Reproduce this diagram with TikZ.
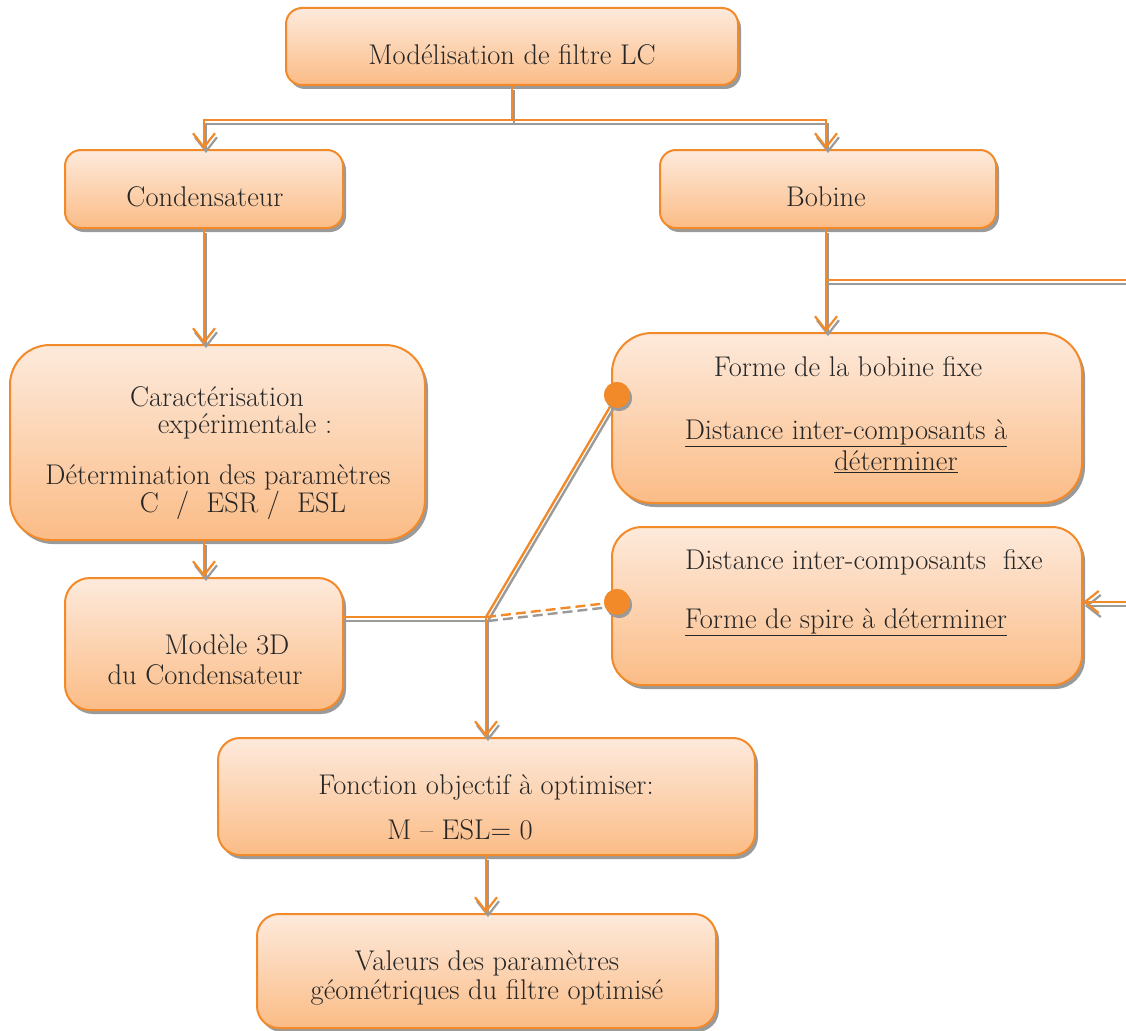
\documentclass[tikz,border=0pt]{standalone}
\usetikzlibrary{arrows.meta,shadows}
\definecolor{boxtop}{HTML}{FDEADC}
\definecolor{boxbot}{HTML}{FBBC86}
\definecolor{orl}{HTML}{F28A2A}
\definecolor{shd}{HTML}{9A9A9A}
\tikzset{
  box/.style={rectangle, draw=orl, line width=2pt, top color=boxtop, bottom color=boxbot,
    drop shadow={shadow xshift=3pt, shadow yshift=-4pt, fill=shd, opacity=1},
    inner sep=0pt, rounded corners=16pt},
  bigbox/.style={box, rounded corners=40pt},
  txt/.style={inner sep=0pt, font=\fontsize{28.5}{32}\selectfont, text=black!85},
  conn/.style={draw=orl, line width=2.4pt,
    preaction={draw=shd, line width=2.4pt, transform canvas={xshift=2pt,yshift=-4pt}}},
  dconn/.style={draw=orl, line width=2.4pt, dash pattern=on 10pt off 5pt,
    preaction={draw=shd, line width=2.4pt, dash pattern=on 10pt off 5pt, transform canvas={xshift=2pt,yshift=-4pt}}},
  arr/.style={conn, -{Straight Barb[length=14pt,width=22pt,line width=2.2pt]}},
  dot/.style={circle, fill=orl, inner sep=0pt, minimum size=26pt,
    drop shadow={shadow xshift=2pt, shadow yshift=-3pt, fill=shd, opacity=1}},
}
\begin{document}
\begin{tikzpicture}[x=1pt,y=-1pt]
\useasboundingbox (0,0) rectangle (1126,1030);
% boxes
\node[box, minimum width=452pt, minimum height=77pt] (top) at (512,46.5) {};
\node[box, minimum width=278pt, minimum height=78pt] (cond) at (204,189) {};
\node[box, minimum width=336pt, minimum height=78pt] (bob) at (828,189) {};
\node[bigbox, minimum width=415pt, minimum height=195pt] (car) at (217.5,442.5) {};
\node[box, rounded corners=25pt, minimum width=278pt, minimum height=132pt] (mod) at (204,644) {};
\node[bigbox, minimum width=470pt, minimum height=170pt] (forme) at (847,418) {};
\node[bigbox, rounded corners=30pt, minimum width=470pt, minimum height=158pt] (dist) at (847,606) {};
\node[box, rounded corners=22pt, minimum width=537pt, minimum height=117pt] (fonc) at (486.5,796.5) {};
\node[box, rounded corners=22pt, minimum width=459pt, minimum height=114pt] (val) at (486.5,971) {};
% texts
\node[txt] (t1) at (512,55) {Modélisation de filtre LC};
\node[txt] (t2) at (205,197) {Condensateur};
\node[txt] (t3) at (826,197) {Bobine};
\node[txt] (t4) at (217,397) {Caractérisation};
\node[txt] (t5) at (245,426) {expérimentale :};
\node[txt] (t6) at (218,477) {Détermination des paramètres};
\node[txt] (t7) at (243,505) {C~~/~~ESR~/~~ESL};
\node[txt] (t8) at (227,645) {Modèle 3D};
\node[txt] (t9) at (205,675) {du Condensateur};
\node[txt] (t10) at (848,367) {Forme de la bobine fixe};
\node[txt] (t11) at (846,433) {\underline{Distance inter-composants à}};
\node[txt] (t12) at (896,462) {\underline{déterminer}};
\node[txt] (t13) at (864,562) {Distance inter-composants~~fixe};
\node[txt] (t14) at (846,622) {\underline{Forme de spire à déterminer}};
\node[txt] (t15) at (486,787) {Fonction objectif à optimiser:};
\node[txt] (t16) at (460,830) {M -- ESL= 0};
\node[txt] (t17) at (487,963) {Valeurs des paramètres};
\node[txt] (t18) at (487,992) {géométriques du filtre optimisé};
% junction coordinates
\coordinate (j1) at (512,120);
\coordinate (j2) at (826,280);
\coordinate (j3) at (486,617);
\coordinate (e1) at (1126,280);
\coordinate (e2) at (1126,602);
\node[dot] (d1) at (617,395) {};
\node[dot] (d2) at (617,602) {};
% connectors
\draw[conn] (top.south) -- (j1);
\draw[arr] (j1) -| (cond.north);
\draw[arr] (j1) -| (bob.north -| j2);
\draw[arr] (cond.south) -- (car.north -| cond.south);
\draw[arr] (bob.south -| j2) -- (forme.north -| j2);
\draw[conn] (j2) -- (e1);
\draw[arr] (e2) -- (dist.east |- e2);
\draw[arr] (car.south -| cond.south) -- (mod.north);
\draw[conn] (mod.east |- j3) -- (j3);
\draw[conn] (j3) -- (d1.center);
\draw[dconn] (j3) -- (d2.center);
\draw[arr] (j3) -- (fonc.north -| j3);
\draw[arr] (fonc.south -| j3) -- (val.north -| j3);
\node[dot] at (d1) {};
\node[dot] at (d2) {};
\end{tikzpicture}
\end{document}
